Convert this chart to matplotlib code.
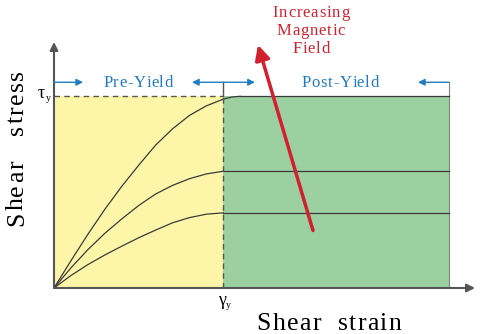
import numpy as np
import matplotlib
matplotlib.use("Agg")
import matplotlib.pyplot as plt
from matplotlib.font_manager import FontProperties

plt.rcParams.update({
    'font.family': 'Liberation Serif',
    'mathtext.fontset': 'stix',
})

# ---------------------------------------------------------------
# data (strain in units of gamma_y, stress in units of tau_y)
# ---------------------------------------------------------------
gamma_y = 1.0
tau_y = 1.0
strain_end = 2.333

top_x = [0, 0.1, 0.2, 0.3, 0.4, 0.5, 0.6, 0.7, 0.8, 0.9, 1.0, 1.05, 1.1]
top_y = [0, 0.142, 0.28, 0.41, 0.53, 0.64, 0.745, 0.83, 0.90, 0.95, 0.985, 0.996, 1.0]

mid_x = [0, 0.1, 0.2, 0.3, 0.4, 0.5, 0.6, 0.7, 0.8, 0.9, 1.0]
mid_y = [0, 0.105, 0.20, 0.285, 0.36, 0.43, 0.49, 0.535, 0.57, 0.595, 0.609]

low_x = [0, 0.1, 0.2, 0.3, 0.4, 0.5, 0.6, 0.7, 0.8, 0.9, 1.0]
low_y = [0, 0.065, 0.122, 0.172, 0.218, 0.262, 0.302, 0.34, 0.367, 0.385, 0.392]

curves = [(top_x, top_y), (mid_x, mid_y), (low_x, low_y)]

field_arrow = [(1.53, 0.30), (1.205, 1.268)]   # tail, head
field_label = ['Increasing', 'Magnetic', 'Field']

# ---------------------------------------------------------------
W, H = 484, 334
fig = plt.figure(figsize=(W / 100, H / 100), dpi=100)
ax = fig.add_axes([54/W, 46/H, 421/W, 246/H])
ax.set_xlim(0, 2.487)
ax.set_ylim(0, 1.283)
ax.axis('off')
renderer = fig.canvas.get_renderer()

yellow = '#fdf6a9'
green = '#9dd0a0'
blue = '#1e7cc3'
red = '#d2202f'
dark = '#3a3a3a'


def text_w(s, size):
    fp = FontProperties(family='Liberation Serif', size=size)
    return renderer.get_text_width_height_descent(s, fp, ismath=False)[0]


def tracked(xc, yb, s, size, track, color='black', vertical=False):
    """letter-spaced text centred on xc (or on yb when vertical), pixel coords from top-left"""
    ref = text_w('I', size)
    offs = [(text_w(s[:i] + 'I', size) - ref if i else 0) + i * track for i in range(len(s))]
    total = text_w(s + 'I', size) - ref + track * (len(s) - 1)
    for ch, o in zip(s, offs):
        if ch == ' ':
            continue
        if vertical:
            x, y = xc, (H - yb) - total / 2 + o
        else:
            x, y = xc - total / 2 + o, H - yb
        fig.text(x / W, y / H, ch, fontsize=size, color=color, ha='left', va='baseline',
                 rotation=90 if vertical else 0, rotation_mode='anchor')


def symbol(x, yb, sym, sub):
    fig.text(x / W, (H - yb) / H, sym, fontsize=13, ha='left', va='baseline')
    fig.text((x + 8) / W, (H - yb - 3) / H, sub, fontsize=7, ha='left', va='baseline')


# regions
ax.fill_between([0, gamma_y], 0, tau_y, color=yellow, lw=0, zorder=1)
ax.fill_between([gamma_y, strain_end], 0, tau_y, color=green, lw=0, zorder=1)
ax.plot([strain_end, strain_end], [0, tau_y], color='#808080', lw=0.8, zorder=2)

# curves + plateaus
for cx, cy in curves:
    ax.plot(cx, cy, color=dark, lw=0.9, zorder=3, solid_joinstyle='round')
    ax.plot([cx[-1], strain_end], [cy[-1], cy[-1]], color=dark, lw=0.9, zorder=3)

# dashed yield lines
ax.plot([0, gamma_y], [tau_y, tau_y], color='#555555', lw=1.0, ls=(0, (4, 3)), zorder=3)
ax.plot([gamma_y, gamma_y], [0, tau_y], color='#555555', lw=1.0, ls=(0, (4, 3)), zorder=3)

# axes with arrows
ax.annotate('', xy=(2.487, 0), xytext=(0, 0),
            arrowprops=dict(arrowstyle='-|>', color='#555555', lw=1.5,
                            mutation_scale=12, shrinkA=0, shrinkB=0), annotation_clip=False)
ax.annotate('', xy=(0, 1.283), xytext=(0, 0),
            arrowprops=dict(arrowstyle='-|>', color='#555555', lw=1.5,
                            mutation_scale=12, shrinkA=0, shrinkB=0), annotation_clip=False)

# region markers
yb = 1.073
def blue_arrow(x0, x1, style='-|>'):
    ax.annotate('', xy=(x1, yb), xytext=(x0, yb),
                arrowprops=dict(arrowstyle=style, color=blue, lw=1.0,
                                mutation_scale=10, shrinkA=0, shrinkB=0),
                annotation_clip=False)

blue_arrow(0.0, 0.172)
blue_arrow(0.815, 1.187, '<|-|>')
blue_arrow(2.333, 2.15)
ax.plot([gamma_y, gamma_y], [tau_y, yb], color='#555555', lw=1.0, clip_on=False)
ax.plot([strain_end, strain_end], [tau_y, yb], color='#808080', lw=0.8, clip_on=False)

tracked(138, 87, 'Pre-Yield', 12, 0.7, color=blue)
tracked(340, 87, 'Post-Yield', 12, 0.7, color=blue)

# magnetic field arrow
(tx, ty), (hx, hy) = field_arrow
ax.annotate('', xy=(hx, hy), xytext=(tx, ty),
            arrowprops=dict(arrowstyle='-|>', color=red, lw=2.5,
                            mutation_scale=22, shrinkA=0, shrinkB=0),
            annotation_clip=False, zorder=5)
for line, base in zip(field_label, [17, 35, 53]):
    tracked(311, base, line, 12, 0.8, color=red)

# labels
symbol(38, 98, '\u03c4', 'y')
symbol(218, 305, '\u03b3', 'y')
tracked(23, 148, 'Shear   stress', 18.5, 1.6, vertical=True)
tracked(329, 330, 'Shear  strain', 18.5, 1.3)

fig.savefig('out.png', dpi=100)
